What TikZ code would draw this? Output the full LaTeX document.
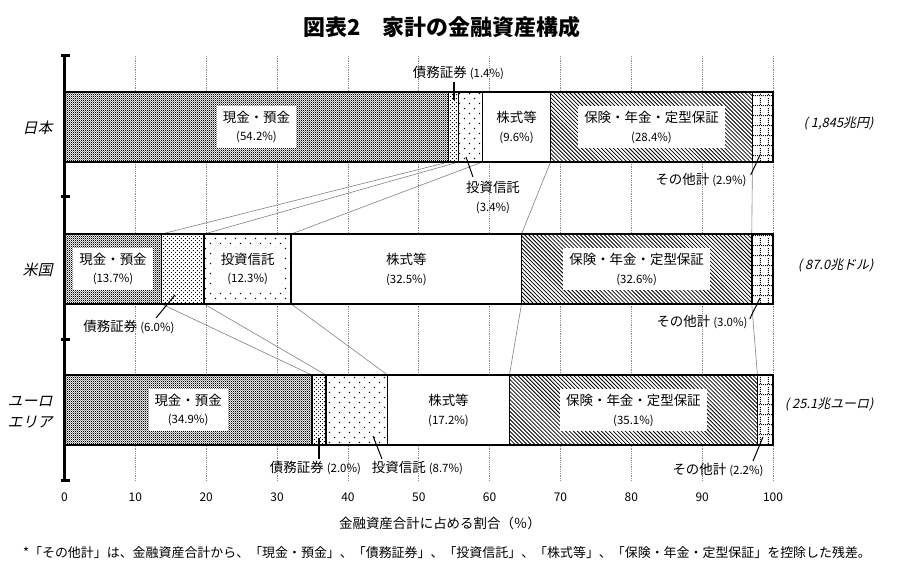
\documentclass[tikz,border=0pt]{standalone}
\usepackage{fontspec}
\setmainfont{Noto Sans CJK JP}
\newfontfamily\slantjp[FakeSlant=0.22]{Noto Sans CJK JP}
\usetikzlibrary{patterns,calc}

\pgfdeclarepatternformonly{cashchecker}{\pgfqpoint{0pt}{0pt}}{\pgfqpoint{2.2pt}{2.2pt}}{\pgfqpoint{2.2pt}{2.2pt}}{%
  \pgfpathrectangle{\pgfqpoint{0pt}{0pt}}{\pgfqpoint{1.1pt}{1.1pt}}%
  \pgfpathrectangle{\pgfqpoint{1.1pt}{1.1pt}}{\pgfqpoint{1.1pt}{1.1pt}}%
  \pgfusepath{fill}}
\pgfdeclarepatternformonly{bonddots}{\pgfqpoint{0pt}{0pt}}{\pgfqpoint{4pt}{4pt}}{\pgfqpoint{4pt}{4pt}}{%
  \pgfpathrectangle{\pgfqpoint{0pt}{0pt}}{\pgfqpoint{1pt}{1pt}}%
  \pgfpathrectangle{\pgfqpoint{2pt}{2pt}}{\pgfqpoint{1pt}{1pt}}%
  \pgfusepath{fill}}
\pgfdeclarepatternformonly{fundpoints}{\pgfqpoint{0pt}{0pt}}{\pgfqpoint{10pt}{10pt}}{\pgfqpoint{10pt}{10pt}}{%
  \pgfpathrectangle{\pgfqpoint{1pt}{1pt}}{\pgfqpoint{1.2pt}{1.2pt}}%
  \pgfpathrectangle{\pgfqpoint{6pt}{6pt}}{\pgfqpoint{1.2pt}{1.2pt}}%
  \pgfusepath{fill}}
\pgfdeclarepatternformonly{insurelines}{\pgfqpoint{-1pt}{-1pt}}{\pgfqpoint{5pt}{5pt}}{\pgfqpoint{4pt}{4pt}}{%
  \pgfsetlinewidth{0.8pt}%
  \pgfpathmoveto{\pgfqpoint{0pt}{4pt}}\pgfpathlineto{\pgfqpoint{4.1pt}{-0.1pt}}%
  \pgfusepath{stroke}}
\pgfdeclarepatternformonly{othergrid}{\pgfqpoint{0pt}{0pt}}{\pgfqpoint{8pt}{10pt}}{\pgfqpoint{8pt}{10pt}}{%
  \pgfpathrectangle{\pgfqpoint{3pt}{0pt}}{\pgfqpoint{0.9pt}{0.9pt}}%
  \pgfpathrectangle{\pgfqpoint{3pt}{2pt}}{\pgfqpoint{0.9pt}{0.9pt}}%
  \pgfpathrectangle{\pgfqpoint{3pt}{4pt}}{\pgfqpoint{0.9pt}{0.9pt}}%
  \pgfpathrectangle{\pgfqpoint{3pt}{6pt}}{\pgfqpoint{0.9pt}{0.9pt}}%
  \pgfpathrectangle{\pgfqpoint{0pt}{9pt}}{\pgfqpoint{0.9pt}{0.9pt}}%
  \pgfpathrectangle{\pgfqpoint{2pt}{9pt}}{\pgfqpoint{0.9pt}{0.9pt}}%
  \pgfpathrectangle{\pgfqpoint{4pt}{9pt}}{\pgfqpoint{0.9pt}{0.9pt}}%
  \pgfpathrectangle{\pgfqpoint{6pt}{9pt}}{\pgfqpoint{0.9pt}{0.9pt}}%
  \pgfusepath{fill}}

\newcommand{\pct}[1]{{\fontsize{11.5}{19}\selectfont(#1\%)}}

\begin{document}
\begin{tikzpicture}[x=1bp, y=-1bp,
  seg/.style={draw, line width=1.8bp, preaction={fill=white}},
  gridline/.style={black!45, densely dotted, line width=0.8bp},
  linkline/.style={black!50, line width=0.6bp},
  leader/.style={line width=1bp},
  boxlbl/.style={fill=white, align=center, inner xsep=6bp, inner ysep=5bp, font=\fontsize{13.5}{19}\selectfont},
  openlbl/.style={boxlbl, fill=none},
  notelbl/.style={inner sep=2bp, align=center, font=\fontsize{13.5}{19}\selectfont},
  rowlbl/.style={anchor=east, align=right, font=\slantjp\fontsize{15}{21}\selectfont},
  totallbl/.style={anchor=east, font=\slantjp\fontsize{13}{16}\selectfont}]
\useasboundingbox (0,0) rectangle (899,583);

\node[font=\bfseries\fontsize{22}{26}\selectfont] (title) at (442,27) {図表2\quad 家計の金融資産構成};

\begin{scope}[shift={(64.5,0)}, x=7.085bp]
\foreach \x in {10,20,...,100}{
\draw[gridline] (\x,56) -- (\x,480);
}
\foreach \ya/\yb/\xa/\xb in {162/234/54.2/13.7, 162/234/55.6/19.7, 162/234/59.0/32.0, 162/234/68.6/64.5, 162/234/97.1/97.0,
  304/375/13.7/34.9, 304/375/19.7/36.9, 304/375/32.0/45.6, 304/375/64.5/62.8, 304/375/97.0/97.8}{
\draw[linkline] (\xa,\ya) -- (\xb,\yb);
}
\foreach \yt/\a/\b/\c/\d/\e in {92/54.2/55.6/59.0/68.6/97.1, 234/13.7/19.7/32.0/64.5/97.0, 375/34.9/36.9/45.6/62.8/97.8}{
\draw[seg, pattern=cashchecker] (0,\yt) rectangle (\a,\yt+70);
\draw[seg, pattern=bonddots] (\a,\yt) rectangle (\b,\yt+70);
\draw[seg, pattern=fundpoints] (\b,\yt) rectangle (\c,\yt+70);
\draw[seg] (\c,\yt) rectangle (\d,\yt+70);
\draw[seg, pattern=insurelines] (\d,\yt) rectangle (\e,\yt+70);
\draw[seg, pattern=othergrid] (\e,\yt) rectangle (100,\yt+70);
}
\draw[line width=3.5bp] (0,56) -- (0,480);
\foreach \y in {56,197,339,480}{
\draw[line width=3bp] (-0.5,\y) -- (0.75,\y);
}
\foreach \x in {0,10,...,100}{
\node[font=\fontsize{12}{14}\selectfont] (tick\x) at (\x,497) {\x};
}
\node[boxlbl] (jcash) at (27.1,127) {現金・預金\\\pct{54.2}};
\node[openlbl] (jstock) at (63.8,127) {株式等\\\pct{9.6}};
\node[boxlbl] (jinsure) at (82.85,127) {保険・年金・定型保証\\\pct{28.4}};
\node[boxlbl] (ucash) at (6.85,269) {現金・預金\\\pct{13.7}};
\node[boxlbl] (ufund) at (25.85,269) {投資信託\\\pct{12.3}};
\node[openlbl] (ustock) at (48.25,269) {株式等\\\pct{32.5}};
\node[boxlbl] (uinsure) at (80.75,269) {保険・年金・定型保証\\\pct{32.6}};
\node[boxlbl] (ecash) at (17.45,410) {現金・預金\\\pct{34.9}};
\node[openlbl] (estock) at (54.2,410) {株式等\\\pct{17.2}};
\node[boxlbl] (einsure) at (80.3,410) {保険・年金・定型保証\\\pct{35.1}};
\end{scope}

\node[notelbl] (jbondlbl) at (458.5,73) {債務証券 \pct{1.4}};
\node[notelbl] (jfundlbl) at (493,197.5) {投資信託\\\pct{3.4}};
\node[notelbl] (jotherlbl) at (701,180) {その他計 \pct{2.9}};
\node[notelbl] (ubondlbl) at (129,327) {債務証券 \pct{6.0}};
\node[notelbl] (uotherlbl) at (702,322) {その他計 \pct{3.0}};
\node[notelbl] (ebondlbl) at (315.5,468) {債務証券 \pct{2.0}};
\node[notelbl] (efundlbl) at (417.5,468) {投資信託 \pct{8.7}};
\node[notelbl] (eotherlbl) at (718,470) {その他計 \pct{2.2}};

\coordinate (jbondpt) at (453.5,100);
\draw[leader, line width=2bp] (jbondlbl.south -| jbondpt) -- (jbondpt);
\coordinate (jfundpt) at (466,157);
\draw[leader] ($(jfundlbl.north)+(-20,-2)$) -- (jfundpt);
\coordinate (jotherpt) at (760,155);
\draw[leader] ($(jotherlbl.east)+(2,-5)$) -- (jotherpt);
\coordinate (ubondpt) at (175,295);
\draw[leader] ($(ubondlbl.north)+(27,0)$) -- (ubondpt);
\coordinate (uotherpt) at (760,298);
\draw[leader] ($(uotherlbl.east)+(0,-3)$) -- (uotherpt);
\coordinate (ebondpt) at (318.5,438);
\draw[leader, line width=2bp] (ebondlbl.north -| ebondpt) -- (ebondpt);
\coordinate (efundpt) at (373,436);
\draw[leader] ($(efundlbl.north)+(-35.5,0)$) -- (efundpt);
\coordinate (eotherpt) at (763,437);
\draw[leader] ($(eotherlbl.north)+(35,0)$) -- (eotherpt);

\node[rowlbl] (japan) at (56,128) {日本};
\node[rowlbl] (usa) at (56,270) {米国};
\node[rowlbl] (euro) at (56,412) {ユーロ\\エリア};
\node[totallbl] (jtotal) at (877,123) {( 1,845兆円)};
\node[totallbl] (utotal) at (877,265) {( 87.0兆ドル)};
\node[totallbl] (etotal) at (877,404) {( 25.1兆ユーロ)};

\node[font=\fontsize{13.5}{16}\selectfont] (axistitle) at (440,523) {金融資産合計に占める割合（％）};
\node[font=\fontsize{13}{16}\selectfont] (footnote) at (447,553) {*「その他計」は、金融資産合計から、「現金・預金」、「債務証券」、「投資信託」、「株式等」、「保険・年金・定型保証」を控除した残差。};
\end{tikzpicture}
\end{document}
